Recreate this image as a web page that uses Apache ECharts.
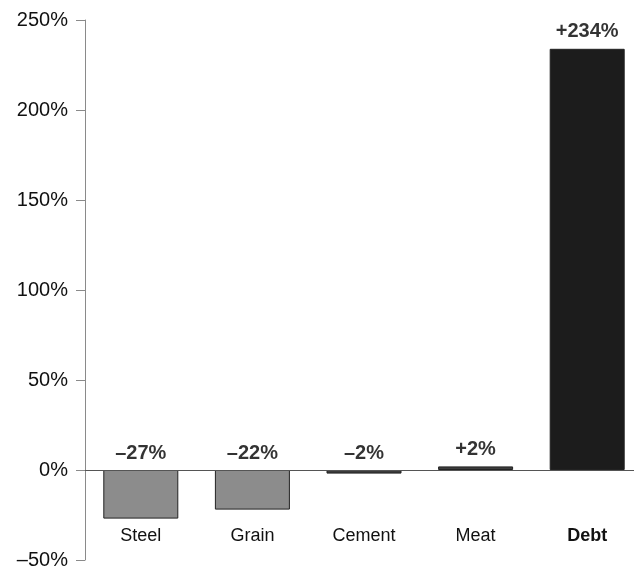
<!DOCTYPE html>
<html><head><meta charset="utf-8">
<script src="https://cdn.jsdelivr.net/npm/echarts@6/dist/echarts.min.js"></script>
<style>html,body{margin:0;padding:0;background:#fff}#c{width:634px;height:570px}</style>
</head><body><div id="c"></div>
<script>
const categories = ['Steel', 'Grain', 'Cement', 'Meat', 'Debt'];
const changes = [-27, -22, -2, 2, 234];
const yMin = -50, yMax = 250, yStep = 50;
const highlightCategory = 'Debt';
const barColors = ['#8c8c8c', '#8c8c8c', '#3c3c3c', '#3c3c3c', '#1c1c1c'];

const FONT = '"Liberation Sans", Arial, Helvetica, sans-serif';
function fmtChange(v) { return (v > 0 ? '+' : '\u2013') + Math.abs(v) + '%'; }

const chart = echarts.init(document.getElementById('c'), null, { renderer: 'canvas' });
chart.setOption({
  animation: false,
  backgroundColor: '#fff',
  grid: { left: 85, top: 20, width: 558, height: 540, containLabel: false, outerBoundsMode: 'none' },
  xAxis: {
    type: 'category',
    position: 'bottom',
    data: categories.map(c => c === highlightCategory ? { value: c, textStyle: { fontWeight: 'bold' } } : c),
    axisLine: { show: false, onZero: false },
    axisTick: { show: false },
    axisLabel: { inside: true, margin: 15, fontSize: 18, color: '#111', fontFamily: FONT }
  },
  yAxis: {
    type: 'value',
    min: yMin, max: yMax, interval: yStep,
    axisLine: { show: true, lineStyle: { color: '#8a8a8a', width: 1 } },
    axisTick: { show: true, length: 9, lineStyle: { color: '#8a8a8a' } },
    axisLabel: { formatter: v => (v < 0 ? '\u2013' + Math.abs(v) : v) + '%', fontSize: 20, color: '#111', margin: 17, fontFamily: FONT },
    splitLine: { show: false }
  },
  series: [
    {
      type: 'bar',
      barWidth: 75,
      data: changes.map((v, i) => ({ value: v, itemStyle: { color: barColors[i] } })),
      itemStyle: { borderColor: '#222', borderWidth: 1 },
      silent: true,
      markLine: {
        silent: true,
        symbol: 'none',
        label: { show: false },
        lineStyle: { color: '#555', width: 1, type: 'solid' },
        data: [{ yAxis: 0 }]
      }
    },
    {
      type: 'scatter',
      symbolSize: 0,
      silent: true,
      data: changes.map((v, i) => [i, Math.max(v, 0)]),
      label: {
        show: true, position: 'top', distance: 7,
        formatter: p => fmtChange(changes[p.dataIndex]),
        fontSize: 20, fontWeight: 'bold', color: '#000', fontFamily: FONT
      }
    }
  ]
});
</script>
</body></html>
